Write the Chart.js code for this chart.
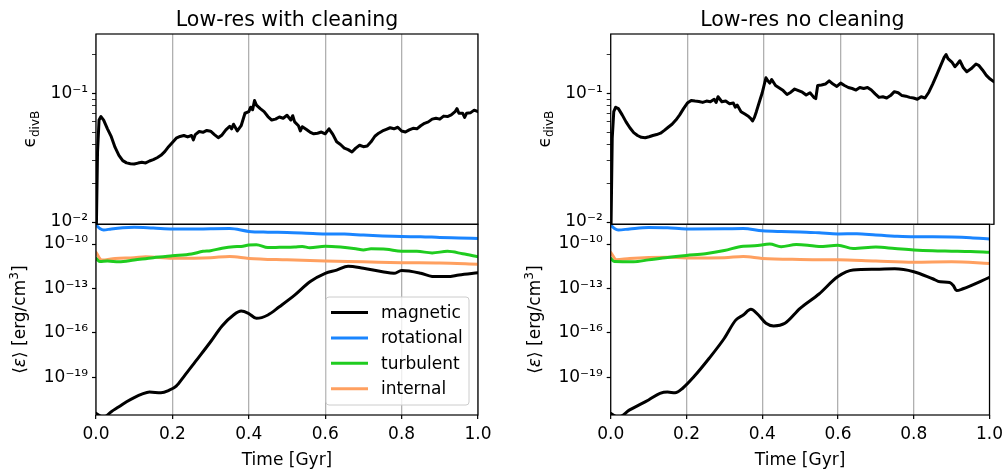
<!DOCTYPE html>
<html>
<head>
<meta charset="utf-8">
<title>Low-res divB and energies</title>
<script src="https://cdn.jsdelivr.net/npm/chart.js@4.4.1/dist/chart.umd.min.js"></script>
<style>
  html, body { margin: 0; padding: 0; background: #fff; overflow: hidden; }
  #wrap { position: relative; width: 1008px; height: 473px; }
  #wrap canvas { position: absolute; left: 0; top: 0; }
</style>
</head>
<body>
<div id="wrap">
  <canvas id="divClean" width="1008" height="473"></canvas>
  <canvas id="divNoClean" width="1008" height="473"></canvas>
  <canvas id="enClean" width="1008" height="473"></canvas>
  <canvas id="enNoClean" width="1008" height="473"></canvas>
</div>
<script>
// ---- divergence error, with cleaning ----
const tDivClean = [0, 0.004, 0.008, 0.013, 0.02, 0.03, 0.04, 0.05, 0.06, 0.07, 0.08, 0.09, 0.1, 0.11, 0.12, 0.13, 0.14, 0.15,
  0.16, 0.17, 0.18, 0.19, 0.2, 0.21, 0.22, 0.23, 0.24, 0.25, 0.255, 0.26, 0.27, 0.28, 0.29, 0.3, 0.31, 0.32, 0.33, 0.34,
  0.35, 0.355, 0.36, 0.37, 0.38, 0.39, 0.4, 0.405, 0.41, 0.415, 0.42, 0.43, 0.44, 0.45, 0.46, 0.47, 0.48, 0.49, 0.5,
  0.51, 0.515, 0.52, 0.53, 0.535, 0.54, 0.55, 0.56, 0.57, 0.58, 0.59, 0.6, 0.61, 0.62, 0.63, 0.64, 0.65, 0.66, 0.67,
  0.68, 0.69, 0.7, 0.71, 0.72, 0.73, 0.74, 0.75, 0.76, 0.77, 0.78, 0.79, 0.8, 0.81, 0.82, 0.83, 0.84, 0.85, 0.86, 0.87,
  0.88, 0.89, 0.9, 0.91, 0.92, 0.93, 0.94, 0.945, 0.95, 0.96, 0.965, 0.97, 0.98, 0.99, 1.0];
const divBClean = [0.006, 0.035, 0.062, 0.066, 0.062, 0.053, 0.046, 0.038, 0.033, 0.030, 0.0288, 0.0284, 0.0282, 0.0287,
  0.0291, 0.0288, 0.0298, 0.0305, 0.0316, 0.0330, 0.0352, 0.0385, 0.0415, 0.0448, 0.0462, 0.0470, 0.0458, 0.0470, 0.0435,
  0.0478, 0.0505, 0.0498, 0.0515, 0.0508, 0.0478, 0.0452, 0.0475, 0.0520, 0.0555, 0.0530, 0.0575, 0.0510, 0.0560, 0.0700,
  0.0720, 0.0780, 0.0745, 0.0880, 0.0810, 0.0760, 0.0720, 0.0660, 0.0620, 0.0630, 0.0655, 0.0640, 0.0675, 0.0620, 0.0670,
  0.0600, 0.0560, 0.0510, 0.0550, 0.0525, 0.0500, 0.0485, 0.0490, 0.0500, 0.0485, 0.0530, 0.0480, 0.0420, 0.0400, 0.0375,
  0.0365, 0.0350, 0.0375, 0.0395, 0.0385, 0.0390, 0.0420, 0.0464, 0.0490, 0.0510, 0.0525, 0.0540, 0.0530, 0.0545, 0.0510,
  0.0500, 0.0520, 0.0535, 0.0530, 0.0560, 0.0585, 0.0600, 0.0630, 0.0640, 0.0630, 0.0665, 0.0660, 0.0680, 0.0720, 0.0760,
  0.0700, 0.0700, 0.0650, 0.0700, 0.0705, 0.0740, 0.0720];

// ---- divergence error, no cleaning ----
const tDivNoClean = [0, 0.004, 0.008, 0.013, 0.02, 0.03, 0.04, 0.05, 0.06, 0.07, 0.08, 0.09, 0.1, 0.11, 0.12, 0.13, 0.14,
  0.15, 0.16, 0.17, 0.18, 0.19, 0.2, 0.21, 0.22, 0.23, 0.24, 0.25, 0.26, 0.27, 0.275, 0.28, 0.29, 0.3, 0.31, 0.32, 0.325,
  0.33, 0.34, 0.35, 0.36, 0.365, 0.37, 0.375, 0.38, 0.39, 0.395, 0.4, 0.405, 0.41, 0.415, 0.42, 0.43, 0.44, 0.45, 0.46,
  0.47, 0.48, 0.49, 0.5, 0.51, 0.52, 0.53, 0.535, 0.54, 0.55, 0.56, 0.57, 0.58, 0.59, 0.6, 0.61, 0.62, 0.63, 0.64, 0.65,
  0.66, 0.67, 0.68, 0.69, 0.7, 0.71, 0.72, 0.73, 0.74, 0.75, 0.76, 0.77, 0.78, 0.79, 0.8, 0.81, 0.82, 0.83, 0.84, 0.85,
  0.86, 0.87, 0.875, 0.88, 0.89, 0.898, 0.905, 0.911, 0.92, 0.929, 0.94, 0.953, 0.96, 0.97, 0.98, 0.99, 1.0];
const divBNoClean = [0.006, 0.045, 0.072, 0.078, 0.076, 0.068, 0.060, 0.054, 0.0495, 0.047, 0.0455, 0.0452, 0.0460,
  0.0470, 0.0478, 0.0490, 0.0515, 0.0545, 0.0575, 0.0620, 0.0680, 0.0760, 0.0840, 0.0880, 0.0870, 0.0865, 0.0850, 0.0870,
  0.0860, 0.0900, 0.0850, 0.0940, 0.0860, 0.0870, 0.0830, 0.0840, 0.0780, 0.0810, 0.0720, 0.0690, 0.0660, 0.0640, 0.0610,
  0.0650, 0.0720, 0.0900, 0.1000, 0.1150, 0.1320, 0.1250, 0.1200, 0.1280, 0.1150, 0.1100, 0.1050, 0.0980, 0.1020, 0.1080,
  0.1050, 0.1020, 0.0970, 0.1010, 0.0930, 0.0910, 0.1150, 0.1160, 0.1180, 0.1250, 0.1180, 0.1130, 0.1200, 0.1150, 0.1110,
  0.1090, 0.1060, 0.1110, 0.1090, 0.1110, 0.1060, 0.0990, 0.0930, 0.0940, 0.0920, 0.0960, 0.1030, 0.1010, 0.0960, 0.0950,
  0.0930, 0.0920, 0.0900, 0.0940, 0.0920, 0.1020, 0.1180, 0.1380, 0.1620, 0.1900, 0.2000, 0.1860, 0.1750, 0.1610, 0.1700,
  0.1790, 0.1580, 0.1470, 0.1550, 0.1690, 0.1650, 0.1520, 0.1380, 0.1290, 0.1230];

// ---- mean energy densities [erg/cm^3], with cleaning ----
const tMagClean = [0, 0.02, 0.04, 0.06, 0.08, 0.1, 0.12, 0.14, 0.17, 0.19, 0.21, 0.23, 0.26, 0.3, 0.33, 0.36, 0.38, 0.4,
  0.42, 0.45, 0.48, 0.52, 0.56, 0.6, 0.63, 0.66, 0.7, 0.75, 0.78, 0.8, 0.85, 0.88, 0.92, 0.95, 1.0];
const magClean = [3.6e-22, 2e-22, 4.7e-22, 1e-21, 2.2e-21, 4.2e-21, 7.2e-21, 1e-20, 8.9e-21, 1.26e-20, 2.5e-20, 1.1e-19,
  1.12e-18, 2.5e-17, 2.9e-16, 1.6e-15, 2.95e-15, 2e-15, 9.5e-16, 1.6e-15, 5.75e-15, 3.5e-14, 2.8e-13, 1.05e-12, 1.74e-12,
  3.2e-12, 2.3e-12, 1.35e-12, 1.05e-12, 1.6e-12, 1.05e-12, 6.5e-13, 6.3e-13, 8.1e-13, 1.15e-12];
const tRotClean = [0, 0.01, 0.02, 0.04, 0.07, 0.1, 0.15, 0.2, 0.25, 0.3, 0.35, 0.4, 0.45, 0.5, 0.55, 0.6, 0.65, 0.7,
  0.75, 0.8, 0.85, 0.9, 0.95, 1.0];
const rotClean = [1.9e-9, 1.12e-9, 8.9e-10, 1.05e-9, 1.26e-9, 1.35e-9, 1.2e-9, 1.05e-9, 1.02e-9, 1.07e-9, 1.1e-9, 7.1e-10,
  6.3e-10, 6.0e-10, 5.4e-10, 4.8e-10, 4.7e-10, 4.0e-10, 3.5e-10, 3.2e-10, 3.1e-10, 2.8e-10, 2.6e-10, 2.4e-10];
const tTurbClean = [0, 0.01, 0.03, 0.06, 0.1, 0.15, 0.2, 0.25, 0.28, 0.3, 0.33, 0.36, 0.38, 0.4, 0.42, 0.45, 0.48, 0.52,
  0.54, 0.56, 0.6, 0.64, 0.68, 0.7, 0.72, 0.76, 0.8, 0.84, 0.88, 0.92, 0.96, 1.0];
const turbClean = [1.07e-11, 6.5e-12, 7.1e-12, 6.3e-12, 8.3e-12, 1.2e-11, 1.6e-11, 2.1e-11, 3.2e-11, 3.5e-11, 5.2e-11,
  6.6e-11, 6.9e-11, 8.5e-11, 9.1e-11, 5.8e-11, 6.0e-11, 6.3e-11, 6.8e-11, 5.6e-11, 7.2e-11, 6.3e-11, 4.8e-11, 4.0e-11,
  4.7e-11, 4.4e-11, 3.2e-11, 3.2e-11, 2.5e-11, 3.2e-11, 2.2e-11, 1.4e-11];
const tIntClean = [0, 0.015, 0.05, 0.1, 0.13, 0.2, 0.3, 0.35, 0.4, 0.5, 0.6, 0.7, 0.8, 0.9, 1.0];
const intClean = [2.75e-11, 8.3e-12, 1.07e-11, 1.2e-11, 1.4e-11, 1.1e-11, 1.2e-11, 1.45e-11, 1.07e-11, 8.5e-12, 7.1e-12,
  6.3e-12, 5.5e-12, 5.2e-12, 4.3e-12];

// ---- mean energy densities [erg/cm^3], no cleaning ----
const tMagNoClean = [0, 0.02, 0.05, 0.1, 0.13, 0.15, 0.17, 0.19, 0.22, 0.26, 0.3, 0.33, 0.35, 0.37, 0.39, 0.41, 0.43,
  0.46, 0.5, 0.55, 0.6, 0.64, 0.7, 0.75, 0.8, 0.85, 0.87, 0.895, 0.905, 0.913, 0.93, 1.0];
const magNoClean = [3.6e-22, 2e-22, 6.2e-22, 2.9e-21, 8.1e-21, 1e-20, 8.9e-21, 1.8e-20, 1.1e-19, 1.9e-18, 4.3e-17,
  7.2e-16, 1.6e-15, 3.9e-15, 1.6e-15, 4.4e-16, 2.9e-16, 4.4e-16, 4.5e-15, 4.2e-14, 6.3e-13, 1.74e-12, 1.95e-12, 2.1e-12,
  1.35e-12, 4.5e-13, 2.8e-13, 2.5e-13, 1.5e-13, 7.1e-14, 9.5e-14, 5.6e-13];
const tRotNoClean = [0, 0.01, 0.02, 0.05, 0.1, 0.15, 0.2, 0.3, 0.35, 0.4, 0.45, 0.5, 0.55, 0.6, 0.65, 0.7, 0.75, 0.8,
  0.85, 0.9, 0.95, 1.0];
const rotNoClean = [1.9e-9, 1.12e-9, 8.9e-10, 1.05e-9, 1.3e-9, 1.25e-9, 1.05e-9, 1.07e-9, 1.1e-9, 7.9e-10, 7.0e-10,
  6.6e-10, 5.7e-10, 4.8e-10, 4.9e-10, 4.0e-10, 3.4e-10, 3.1e-10, 3.1e-10, 3.0e-10, 2.7e-10, 2.2e-10];
const tTurbNoClean = [0, 0.01, 0.06, 0.1, 0.15, 0.2, 0.25, 0.3, 0.35, 0.38, 0.42, 0.45, 0.49, 0.52, 0.55, 0.6, 0.64,
  0.7, 0.75, 0.8, 0.85, 0.9, 0.95, 1.0];
const turbNoClean = [1.07e-11, 6.5e-12, 6.3e-12, 8.5e-12, 1.25e-11, 1.7e-11, 2.2e-11, 3.6e-11, 7.2e-11, 7.6e-11, 1.0e-10,
  6.6e-11, 9.2e-11, 8.3e-11, 6.7e-11, 8.3e-11, 5.0e-11, 6.2e-11, 5.0e-11, 4.0e-11, 3.5e-11, 3.3e-11, 3.1e-11, 2.75e-11];
const tIntNoClean = [0, 0.015, 0.05, 0.15, 0.2, 0.3, 0.35, 0.4, 0.5, 0.6, 0.7, 0.8, 0.9, 1.0];
const intNoClean = [2.75e-11, 8.8e-12, 1.07e-11, 1.3e-11, 1.15e-11, 1.2e-11, 1.45e-11, 1.07e-11, 9e-12, 8.5e-12, 7e-12,
  5.9e-12, 6.3e-12, 4.9e-12];

// labels and ticks
const panelTitles = ['Low-res with cleaning', 'Low-res no cleaning'];
const seriesNames = ['magnetic', 'rotational', 'turbulent', 'internal'];
const seriesColors = ['#000000', '#1a85ff', '#1fcc1f', '#ffa060'];
const timeTicks = [0, 0.2, 0.4, 0.6, 0.8, 1.0];
const divTicks = [0.01, 0.1];
const divTickLabels = ['10⁻²', '10⁻¹'];
const divMinorTicks = [0.02, 0.03, 0.04, 0.05, 0.06, 0.07, 0.08, 0.09, 0.2];
const energyTicks = [1e-19, 1e-16, 1e-13, 1e-10];
const energyTickLabels = ['10⁻¹⁹', '10⁻¹⁶', '10⁻¹³', '10⁻¹⁰'];
const divRange = [0.0096, 0.289];
const energyRange = [2.8e-22, 2.15e-9];

const FONT = 'DejaVu Sans';
const W = 1008, H = 473;
const colLeft = [96, 610.7], colRight = [478, 994];
const topY = 34, midY = 224.3, botY = 415;

function pairs(ts, vs) {
  return ts.map((t, i) => ({ x: t, y: vs[i] }));
}

function labelFor(values, labels) {
  return function (value) {
    const i = values.findIndex(v => Math.abs(v - value) / v < 1e-6);
    return i >= 0 ? labels[i] : '';
  };
}

// frame, title, y label, x caption and (optionally) legend on top of each panel
function panelDecor(opt) {
  return {
    id: 'panelDecor',
    afterDatasetsDraw(chart) {
      const { ctx, chartArea: a } = chart;
      ctx.save();
      ctx.strokeStyle = '#000';
      ctx.lineWidth = 1.2;
      ctx.strokeRect(a.left, a.top, a.right - a.left, a.bottom - a.top);
      ctx.fillStyle = '#000';

      if (opt.title) {
        ctx.font = '20.5px "' + FONT + '"';
        ctx.textAlign = 'center';
        ctx.textBaseline = 'alphabetic';
        ctx.fillText(opt.title, (a.left + a.right) / 2, 26);
      }
      if (opt.xLabel) {
        ctx.font = '17px "' + FONT + '"';
        ctx.textAlign = 'center';
        ctx.textBaseline = 'alphabetic';
        ctx.fillText(opt.xLabel, (a.left + a.right) / 2, 465);
      }

      // rotated y-axis label built from pieces (sub/superscripts)
      ctx.translate(a.left - opt.labelOffset, (a.top + a.bottom) / 2);
      ctx.rotate(-Math.PI / 2);
      ctx.textBaseline = 'alphabetic';
      ctx.textAlign = 'left';
      const total = opt.yLabel.reduce((s, p) => { ctx.font = p.font; return s + ctx.measureText(p.text).width; }, 0);
      let x = -total / 2;
      opt.yLabel.forEach(p => {
        ctx.font = p.font;
        ctx.fillText(p.text, x, p.dy || 0);
        x += ctx.measureText(p.text).width;
      });
      ctx.restore();

      if (opt.legend) {
        ctx.save();
        const bx = a.right - 152, by = a.bottom - 118, bw = 143, bh = 108;
        ctx.fillStyle = 'rgba(255,255,255,0.8)';
        ctx.strokeStyle = '#cccccc';
        ctx.lineWidth = 1;
        ctx.beginPath();
        ctx.roundRect(bx, by, bw, bh, 3);
        ctx.fill();
        ctx.stroke();
        ctx.font = '17px "' + FONT + '"';
        ctx.textBaseline = 'middle';
        ctx.textAlign = 'left';
        seriesNames.forEach((name, i) => {
          const ry = by + 15.5 + i * 25.4;
          ctx.strokeStyle = seriesColors[i];
          ctx.lineWidth = 3;
          ctx.beginPath();
          ctx.moveTo(bx + 5, ry);
          ctx.lineTo(bx + 42, ry);
          ctx.stroke();
          ctx.fillStyle = '#000';
          ctx.fillText(name, bx + 55, ry + 1);
        });
        ctx.restore();
      }
    }
  };
}

function lineSet(points, color, smooth) {
  return {
    data: points,
    borderColor: color,
    borderWidth: 3,
    pointRadius: 0,
    fill: false,
    tension: smooth ? 0.3 : 0,
    cubicInterpolationMode: smooth ? 'monotone' : 'default',
    borderJoinStyle: 'round',
    borderCapStyle: 'round',
    clip: 0
  };
}

function xAxis(showTicks, height) {
  return {
    type: 'linear', min: 0, max: 1,
    afterBuildTicks: s => { s.ticks = timeTicks.map(v => ({ value: v })); },
    afterFit: s => { s.height = height; },
    border: { display: false },
    grid: {
      color: '#b0b0b0', lineWidth: 1.3,
      drawTicks: showTicks, tickLength: 4, tickColor: '#000', tickWidth: 1.2
    },
    ticks: {
      display: showTicks, autoSkip: false, maxRotation: 0, padding: 5,
      color: '#000', font: { family: FONT, size: 17 },
      callback: v => v.toFixed(1)
    }
  };
}

function yAxis(range, major, majorLabels, minor) {
  const all = major.concat(minor).sort((p, q) => p - q);
  return {
    type: 'logarithmic', min: range[0], max: range[1],
    afterBuildTicks: s => { s.ticks = all.map(v => ({ value: v })); },
    afterFit: s => { s.width = 60; },
    border: { display: false },
    grid: {
      drawOnChartArea: false, drawTicks: true, tickLength: 4, tickColor: '#000',
      tickWidth: c => (major.some(v => Math.abs(v - c.tick.value) / v < 1e-6) ? 1.2 : 0.8)
    },
    ticks: {
      autoSkip: false, padding: 4, color: '#000', font: { family: FONT, size: 17 },
      callback: labelFor(major, majorLabels)
    }
  };
}

function build(id, col, isTop, datasets, decor) {
  const left = colLeft[col] - 60;
  const right = W - colRight[col];
  const padding = isTop
    ? { left: left, right: right, top: topY, bottom: H - midY }
    : { left: left, right: right, top: midY, bottom: H - botY - 40 };
  return new Chart(document.getElementById(id), {
    type: 'line',
    data: { datasets: datasets },
    options: {
      responsive: false,
      animation: false,
      events: [],
      layout: { padding: padding },
      plugins: { legend: { display: false }, tooltip: { enabled: false }, title: { display: false } },
      scales: {
        x: xAxis(!isTop, isTop ? 0 : 40),
        y: isTop ? yAxis(divRange, divTicks, divTickLabels, divMinorTicks)
                 : yAxis(energyRange, energyTicks, energyTickLabels, [])
      }
    },
    plugins: [panelDecor(decor)]
  });
}

const divLabel = [
  { text: 'ϵ', font: '17px "' + FONT + '"' },
  { text: 'divB', font: '12px "' + FONT + '"', dy: 3.5 }
];
const energyLabel = [
  { text: '⟨', font: '17px "' + FONT + '"' },
  { text: 'ε', font: 'italic 17px "' + FONT + '"' },
  { text: '⟩ [erg/cm', font: '17px "' + FONT + '"' },
  { text: '3', font: '12px "' + FONT + '"', dy: -7 },
  { text: ']', font: '17px "' + FONT + '"' }
];

build('divClean', 0, true, [lineSet(pairs(tDivClean, divBClean), '#000', false)],
  { title: panelTitles[0], yLabel: divLabel, labelOffset: 61 });
build('divNoClean', 1, true, [lineSet(pairs(tDivNoClean, divBNoClean), '#000', false)],
  { title: panelTitles[1], yLabel: divLabel, labelOffset: 61 });

build('enClean', 0, false, [
  lineSet(pairs(tRotClean, rotClean), seriesColors[1], true),
  lineSet(pairs(tTurbClean, turbClean), seriesColors[2], true),
  lineSet(pairs(tIntClean, intClean), seriesColors[3], true),
  lineSet(pairs(tMagClean, magClean), seriesColors[0], true)
], { yLabel: energyLabel, labelOffset: 71, legend: true, xLabel: 'Time [Gyr]' });
build('enNoClean', 1, false, [
  lineSet(pairs(tRotNoClean, rotNoClean), seriesColors[1], true),
  lineSet(pairs(tTurbNoClean, turbNoClean), seriesColors[2], true),
  lineSet(pairs(tIntNoClean, intNoClean), seriesColors[3], true),
  lineSet(pairs(tMagNoClean, magNoClean), seriesColors[0], true)
], { yLabel: energyLabel, labelOffset: 71, xLabel: 'Time [Gyr]' });
</script>
</body>
</html>
